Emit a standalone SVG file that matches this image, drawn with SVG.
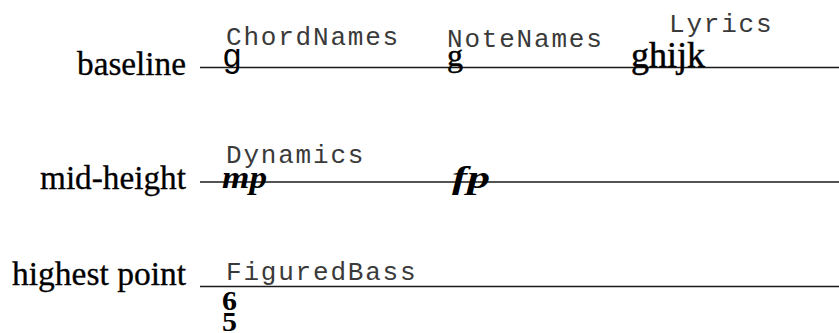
<svg xmlns="http://www.w3.org/2000/svg" width="839" height="333" viewBox="0 0 839 333">
<style>
.lbl{font-family:"Liberation Serif","Times New Roman",serif;font-size:33px;fill:#000;stroke:#000;stroke-width:0.3}
.ctx{font-family:"Liberation Mono","Courier New",monospace;font-size:26px;letter-spacing:1.8px;fill:#3a3a3a}
.chord{font-family:"Liberation Sans",Arial,sans-serif;font-size:33px;fill:#000}
.note{font-family:"Liberation Serif","Times New Roman",serif;fill:#000;stroke:#000;stroke-width:0.5}
.dyn{font-family:"Liberation Serif","Times New Roman",serif;font-weight:bold;font-style:italic;font-size:32px;fill:#000}
.fig{font-family:"Liberation Serif","Times New Roman",serif;font-weight:bold;font-size:28px;fill:#000}
.ln{stroke:#1a1a1a;stroke-width:1.6;fill:none}
</style>
<g id="connectors">
<line class="ln" x1="200" y1="67.5" x2="839" y2="67.5"/>
<line class="ln" x1="200" y1="182" x2="839" y2="182"/>
<line class="ln" x1="200" y1="286.5" x2="839" y2="286.5"/>
</g>
<g id="label-baseline"><text class="lbl" x="77" y="74.5" textLength="109" lengthAdjust="spacingAndGlyphs">baseline</text></g>
<g id="label-mid-height"><text class="lbl" x="40" y="189" textLength="146" lengthAdjust="spacingAndGlyphs">mid-height</text></g>
<g id="label-highest-point"><text class="lbl" x="12" y="285" textLength="174" lengthAdjust="spacingAndGlyphs">highest point</text></g>
<g id="chordnames">
<text class="ctx" x="226" y="45">ChordNames</text>
<text class="chord" x="223" y="67">g</text>
</g>
<g id="notenames">
<text class="ctx" x="447" y="47">NoteNames</text>
<text class="note" x="447" y="66" font-size="32">g</text>
</g>
<g id="lyrics">
<text class="ctx" x="669" y="32">Lyrics</text>
<text class="note" x="631" y="67" font-size="36">ghijk</text>
</g>
<g id="dynamics">
<text class="ctx" x="226" y="163">Dynamics</text>
<text class="dyn" x="222" y="188" textLength="45" lengthAdjust="spacingAndGlyphs">mp</text>
<text class="dyn" x="452" y="188" textLength="38" lengthAdjust="spacingAndGlyphs">fp</text>
</g>
<g id="figuredbass">
<text class="ctx" x="226" y="280">FiguredBass</text>
<text class="fig" x="222" y="310" textLength="15" lengthAdjust="spacingAndGlyphs">6</text>
<text class="fig" x="222" y="331" textLength="15" lengthAdjust="spacingAndGlyphs">5</text>
</g>
</svg>
